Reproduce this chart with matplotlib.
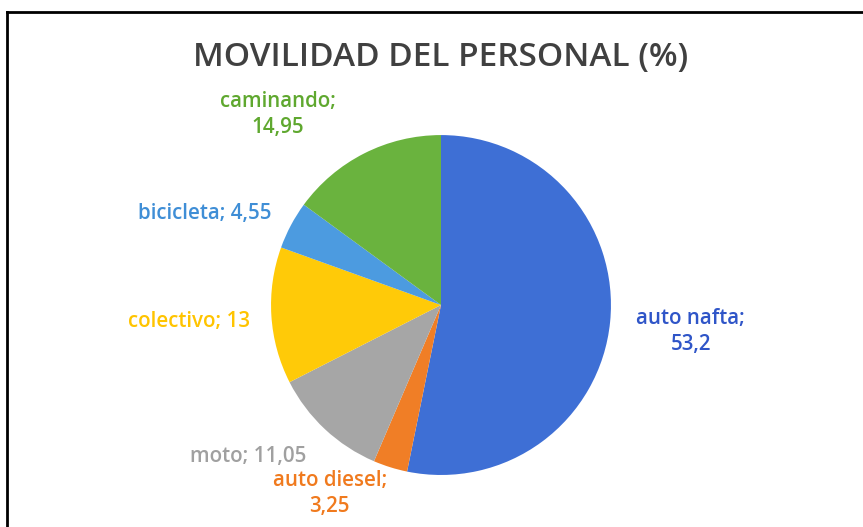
import matplotlib
matplotlib.use("Agg")
import matplotlib.pyplot as plt
from matplotlib.lines import Line2D

categories = ["auto nafta", "auto diesel", "moto", "colectivo", "bicicleta", "caminando"]
values = [53.2, 3.25, 11.05, 13, 4.55, 14.95]
value_labels = ["53,2", "3,25", "11,05", "13", "4,55", "14,95"]
two_line = [True, True, False, False, False, True]

slice_colors = ["#3E6FD5", "#F07E26", "#A6A6A6", "#FFCA08", "#4C9BE0", "#6AB33E"]
text_colors = ["#2F55C8", "#F07A1E", "#A0A0A0", "#FFC400", "#3F8ED6", "#5FA82F"]
label_pos = [(1.47, -0.155), (-0.655, -1.11), (-1.135, -0.894),
             (-1.48, -0.094), (-1.39, 0.54), (-0.96, 1.12)]

plt.rcParams['font.family'] = ['Open Sans', 'DejaVu Sans']

fig = plt.figure(figsize=(8.63, 5.27), dpi=100)
fig.patch.set_facecolor("white")

ax = fig.add_axes([0.314, 0.0987, 0.394, 0.645])
ax.pie(values, colors=slice_colors, startangle=90, counterclock=False,
       wedgeprops=dict(linewidth=0))
ax.set_xlim(-1, 1)
ax.set_ylim(-1, 1)
ax.set_aspect('equal')
ax.axis('off')

for cat, vl, tl, col, (x, y) in zip(categories, value_labels, two_line, text_colors, label_pos):
    sep = ";\n" if tl else "; "
    ax.text(x, y, cat + sep + vl, color=col, fontsize=14.8, fontweight='semibold',
            ha='center', va='center', linespacing=1.35, clip_on=False)

fig.text(0.5105, 0.89, "MOVILIDAD DEL PERSONAL (%)", ha='center', va='center',
         fontsize=24, fontweight='semibold', color='#404040')

# frame
fig.add_artist(Line2D([7/863, 7/863], [0, 1 - 12/527], transform=fig.transFigure,
                      color='black', linewidth=2))
fig.add_artist(Line2D([7/863, 1], [1 - 12/527, 1 - 12/527], transform=fig.transFigure,
                      color='black', linewidth=2))

fig.savefig("out.png", dpi=100, facecolor="white")
